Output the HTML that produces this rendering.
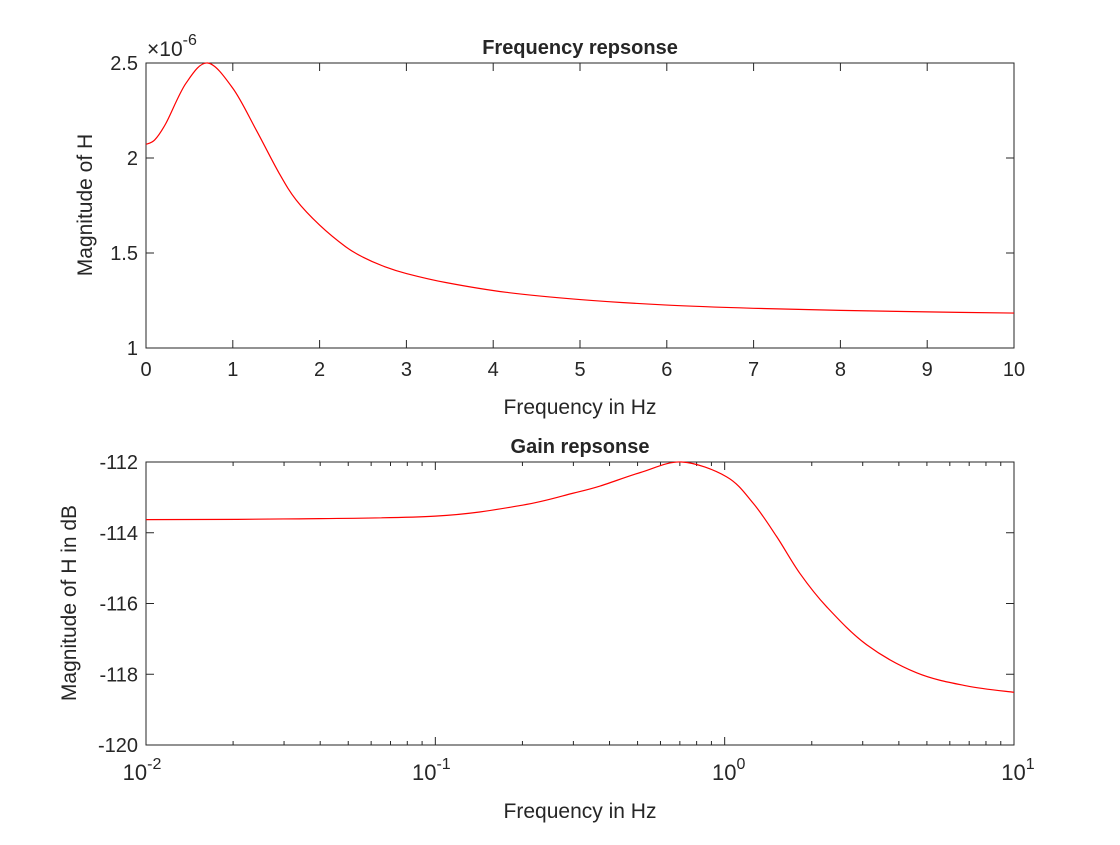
<!DOCTYPE html>
<html><head><meta charset="utf-8"><style>
body{margin:0;background:#fff;}
svg text{font-family:"Liberation Sans",Arial,sans-serif;fill:#262626;}
</style></head><body>
<svg id="chart" width="1120" height="840" xmlns="http://www.w3.org/2000/svg">
<rect width="1120" height="840" fill="#fff"/>
<g id="top"></g>
<g id="bot"></g>
</svg>
<script>
const topFreq = [0,0.1,0.23,0.46,0.71,1.0,1.27,1.535,1.73,2.0,2.3,2.5,2.75,3.0,3.46,4.15,5,6,7,8,9,10];
const topMag = [2.072,2.095,2.183,2.393,2.5,2.367,2.147,1.919,1.779,1.647,1.533,1.478,1.428,1.392,1.344,1.293,1.255,1.226,1.209,1.198,1.19,1.184];
const topXTicks = [0,1,2,3,4,5,6,7,8,9,10];
const topYTicks = [1,1.5,2,2.5];
const botFreq = [0.01,0.03,0.1,0.2,0.3,0.371,0.51,0.71,1.016,1.256,1.513,1.82,2.25,3.1,4.61,6.87,10];
const botDb = [-113.63,-113.61,-113.53,-113.22,-112.88,-112.68,-112.3,-112.0,-112.42,-113.17,-114.11,-115.15,-116.09,-117.17,-117.96,-118.33,-118.51];
const botYTicks = [-120,-118,-116,-114,-112];
const botXDecades = [-2,-1,0,1];

const NS="http://www.w3.org/2000/svg";
function mk(parent,tag,attrs,text){const e=document.createElementNS(NS,tag);for(const k in attrs)e.setAttribute(k,attrs[k]);if(text!==undefined)e.textContent=text;parent.appendChild(e);return e;}
const L=146,R=1014;
function smoothPath(pts){let d=`M${pts[0][0]},${pts[0][1]}`;for(let i=0;i<pts.length-1;i++){const p0=pts[Math.max(0,i-1)],p1=pts[i],p2=pts[i+1],p3=pts[Math.min(pts.length-1,i+2)];const c1x=p1[0]+(p2[0]-p0[0])/6,c1y=p1[1]+(p2[1]-p0[1])/6,c2x=p2[0]-(p3[0]-p1[0])/6,c2y=p2[1]-(p3[1]-p1[1])/6;d+=` C${c1x},${c1y} ${c2x},${c2y} ${p2[0]},${p2[1]}`;}return d;}

// top
(function(){
const g=document.getElementById('top');const T=63,B=348;
const xs=v=>L+(v-0)/(10-0)*(R-L), ys=v=>B-(v-1)/(2.5-1)*(B-T);
let e=mk(g,'rect',{x:L,y:T,width:R-L,height:B-T,fill:'none',stroke:'#262626','stroke-width':1});

topXTicks.forEach(t=>{const x=xs(t);mk(g,'line',{x1:x,x2:x,y1:B,y2:B-8,stroke:'#262626'});mk(g,'line',{x1:x,x2:x,y1:T,y2:T+8,stroke:'#262626'});
const l=mk(g,'text',{x:x,y:B+28,'text-anchor':'middle','font-size':20},String(t));});
topYTicks.forEach(t=>{const y=ys(t);mk(g,'line',{x1:L,x2:L+8,y1:y,y2:y,stroke:'#262626'});mk(g,'line',{x1:R,x2:R-8,y1:y,y2:y,stroke:'#262626'});
const l=mk(g,'text',{x:L-8,y:y+7,'text-anchor':'end','font-size':20},String(t));});
const ex=mk(g,'text',{x:147,y:56,'font-size':21},'×10');
mk(ex,'tspan',{dy:-11,'font-size':16},'-6');
const p=mk(g,'path',{d:smoothPath(topFreq.map((f,i)=>[xs(f),ys(topMag[i])])),fill:'none',stroke:'#ff0000','stroke-width':1.2});

const t=mk(g,'text',{x:580,y:54,'text-anchor':'middle','font-size':20,'font-weight':'bold',fill:'#000'},'Frequency repsonse');
const xl=mk(g,'text',{x:580,y:414,'text-anchor':'middle','font-size':21},'Frequency in Hz');
const yl=mk(g,'text',{x:92,y:205,'text-anchor':'middle','font-size':21,transform:'rotate(-90 92 205)'},'Magnitude of H');
})();

// bottom
(function(){
const g=document.getElementById('bot');const T=462,B=745;
const xs=v=>L+(Math.log10(v)+2)/3*(R-L), ys=v=>B-(v+120)/8*(B-T);
let e=mk(g,'rect',{x:L,y:T,width:R-L,height:B-T,fill:'none',stroke:'#262626','stroke-width':1});

botXDecades.forEach((d,i)=>{const x=xs(Math.pow(10,d));mk(g,'line',{x1:x,x2:x,y1:B,y2:B-8,stroke:'#262626'});mk(g,'line',{x1:x,x2:x,y1:T,y2:T+8,stroke:'#262626'});
const l=mk(g,'text',{x:x+(d<0?-4:4),y:B+35,'text-anchor':'middle','font-size':22},'10');
mk(l,'tspan',{dy:-11,'font-size':16},String(d));
if(i<botXDecades.length-1){for(let m=2;m<=9;m++){const xm=xs(m*Math.pow(10,d));mk(g,'line',{x1:xm,x2:xm,y1:B,y2:B-4,stroke:'#262626'});mk(g,'line',{x1:xm,x2:xm,y1:T,y2:T+4,stroke:'#262626'});}}});
botYTicks.forEach(t=>{const y=ys(t);mk(g,'line',{x1:L,x2:L+8,y1:y,y2:y,stroke:'#262626'});mk(g,'line',{x1:R,x2:R-8,y1:y,y2:y,stroke:'#262626'});
const l=mk(g,'text',{x:L-8,y:y+7,'text-anchor':'end','font-size':20},String(t));});
const p=mk(g,'path',{d:smoothPath(botFreq.map((f,i)=>[xs(f),ys(botDb[i])])),fill:'none',stroke:'#ff0000','stroke-width':1.2});

const t=mk(g,'text',{x:580,y:453,'text-anchor':'middle','font-size':20,'font-weight':'bold',fill:'#000'},'Gain repsonse');
const xl=mk(g,'text',{x:580,y:818,'text-anchor':'middle','font-size':21},'Frequency in Hz');
const yl=mk(g,'text',{x:76,y:603,'text-anchor':'middle','font-size':21,transform:'rotate(-90 76 603)'},'Magnitude of H in dB');
})();
</script>
</body></html>
